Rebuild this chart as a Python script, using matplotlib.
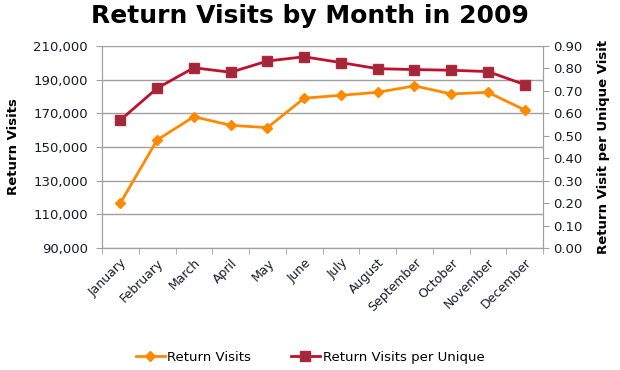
import matplotlib.pyplot as plt
from matplotlib.ticker import FuncFormatter, MultipleLocator, FixedLocator

months = ["January", "February", "March", "April", "May", "June", "July",
          "August", "September", "October", "November", "December"]
return_visits = [116700, 154200, 168000, 162900, 161500, 179000, 180700,
                 182500, 186300, 181500, 182500, 172000]
visits_per_unique = [0.57, 0.712, 0.803, 0.783, 0.833, 0.852, 0.826,
                     0.799, 0.795, 0.792, 0.786, 0.728]
left_ticks = [90000, 110000, 130000, 150000, 170000, 190000, 210000]

plt.rcParams['font.family'] = ['DejaVu Sans']

fig = plt.figure(figsize=(6.2, 3.7), dpi=100)
ax = fig.add_axes([0.1645, 0.3297, 0.7115, 0.546])
ax2 = ax.twinx()

x = list(range(len(months)))
orange = "#FF8A00"
red = "#C0102A"

l1, = ax.plot(x, return_visits, color=orange, lw=2, marker="D", ms=5.5,
              mfc=orange, mec=orange, label="Return Visits", zorder=3)
l2, = ax2.plot(x, visits_per_unique, color=red, lw=2, marker="s", ms=7.5,
               mfc="#A0283A", mec="#B0283A", label="Return Visits per Unique", zorder=3)

ax.set_xlim(-0.5, 11.5)
ax.set_ylim(90000, 210000)
ax.yaxis.set_major_locator(FixedLocator(left_ticks))
ax.yaxis.set_major_formatter(FuncFormatter(lambda v, p: f"{int(v):,}"))
ax2.set_ylim(0, 0.9)
ax2.yaxis.set_major_locator(MultipleLocator(0.1))
ax2.yaxis.set_major_formatter(FuncFormatter(lambda v, p: f"{v:.2f}"))

ax.grid(axis="y", color="#A0A0A0", lw=1)
ax.set_axisbelow(True)

ax.xaxis.set_major_locator(FixedLocator(x))
ax.set_xticklabels(months, rotation=45, ha="right", rotation_mode="anchor",
                   fontsize=9, color="#1a1a2e")
ax.tick_params(axis="x", which="major", length=0, pad=6)
ax.xaxis.set_minor_locator(FixedLocator([i - 0.5 for i in range(13)]))
ax.tick_params(axis="x", which="minor", length=4, color="#A0A0A0")

ax.tick_params(axis="y", length=4, color="#A0A0A0", labelsize=9.5,
               labelcolor="#1a1a2e", pad=6)
ax2.tick_params(axis="y", length=4, color="#A0A0A0", labelsize=9.5,
                labelcolor="#1a1a2e")

for a in (ax, ax2):
    a.spines["top"].set_visible(False)
    for s in ("left", "right", "bottom"):
        a.spines[s].set_color("#A0A0A0")

ax.set_ylabel("Return Visits", fontsize=9.5, fontweight="bold", labelpad=10)
ax2.set_ylabel("Return Visit per Unique Visit", fontsize=9.5,
               fontweight="bold", labelpad=10)

fig.suptitle("Return Visits by Month in 2009", fontsize=18,
             fontweight="bold", y=0.99)

fig.legend(handles=[l1, l2], loc="center", bbox_to_anchor=(0.5, 0.035),
           ncol=2, frameon=False, fontsize=9.5, handlelength=2.2,
           columnspacing=3, handletextpad=0.2)

fig.savefig("out.png", dpi=100)
